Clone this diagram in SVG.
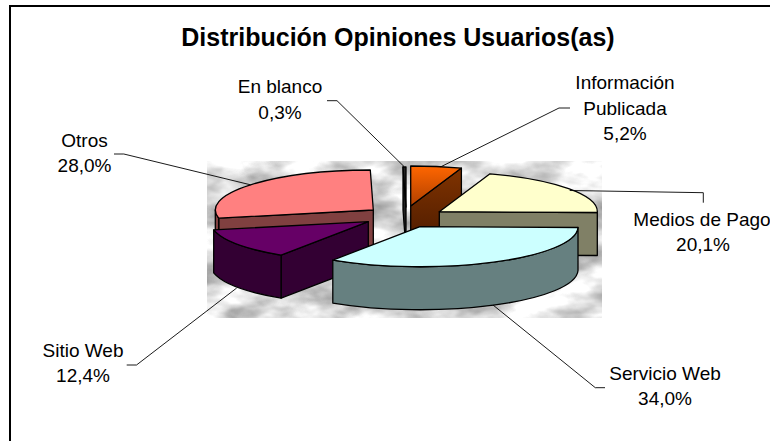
<svg xmlns="http://www.w3.org/2000/svg" width="770" height="441" viewBox="0 0 770 441">
<style>
text{font-family:"Liberation Sans",Arial,sans-serif;fill:#000}
.lbl{font-size:19px;text-anchor:middle}
.title{font-size:25px;font-weight:bold;text-anchor:middle}
.f{stroke:#000;stroke-width:1.3;stroke-linejoin:round}
.lead{fill:none;stroke:#000;stroke-width:0.9}
</style>
<defs>
<filter id="marble" x="0" y="0" width="100%" height="100%" color-interpolation-filters="sRGB">
<feTurbulence type="fractalNoise" baseFrequency="0.018 0.035" numOctaves="4" seed="7" result="n"/>
<feColorMatrix in="n" type="matrix" values="0.9 0 0 0 0.42  0.9 0 0 0 0.42  0.9 0 0 0 0.42  0 0 0 0 1"/>
</filter>
<linearGradient id="orTop" x1="0" y1="0" x2="0" y2="1">
<stop offset="0" stop-color="#FF6600"/><stop offset="1" stop-color="#B04000"/>
</linearGradient>
<linearGradient id="orSide" x1="0" y1="0" x2="0" y2="1">
<stop offset="0" stop-color="#803300"/><stop offset="1" stop-color="#4A1A00"/>
</linearGradient>
</defs>
<rect x="0" y="0" width="770" height="441" fill="#fff"/>
<rect id="frame" x="10" y="6" width="800" height="500" fill="none" stroke="#000" stroke-width="2"/>
<text class="title" x="398" y="46">Distribución Opiniones Usuarios(as)</text>
<rect id="plot-area" x="207" y="161" width="395" height="157" fill="#ddd" filter="url(#marble)"/>

<g id="slice-otros">
<path class="f" fill="#804040" d="M373.3,210 L218.7,218.2 L218.7,261.2 L373.3,253 Z"/>
<path class="f" fill="#804040" d="M218.7,218.2 A158 40 0 0 1 215.3,210 L215.3,253 A158 40 0 0 0 218.7,261.2 Z"/>
<path class="f" fill="#FF8080" d="M373.3,210 L218.7,218.2 A158 40 0 0 1 370.3,170 Z"/>
</g>
<g id="slice-en-blanco">
<path class="f" fill="#222" d="M406,207 L403,167 L403,210 L406,250 Z"/>
<path class="f" fill="#222" d="M406,207 L403,167 A158 40 0 0 1 406,167 Z"/>
</g>
<g id="slice-informacion">
<path class="f" fill="url(#orSide)" d="M410.7,206 L461.4,168.1 L461.4,211.1 L410.7,249 Z"/>
<path class="f" fill="url(#orTop)" d="M410.7,206 L410.7,166 A158 40 0 0 1 461.4,168.1 Z"/>
</g>
<g id="slice-medios">
<path class="f" fill="#808066" d="M439.3,211.7 L597.3,212.5 L597.3,255.5 L439.3,254.7 Z"/>
<path class="f" fill="#FFFFCC" d="M439.3,211.7 L490,173.8 A158 40 0 0 1 597.3,212.5 Z"/>
</g>
<g id="slice-sitio">
<path class="f" fill="#330033" d="M368.3,221.7 L281.1,255.1 L281.1,298.1 L368.3,264.7 Z"/>
<path class="f" fill="#330033" d="M281.1,255.1 A158 40 0 0 1 213.7,229.9 L213.7,272.9 A158 40 0 0 0 281.1,298.1 Z"/>
<path class="f" fill="#660066" d="M368.3,221.7 L281.1,255.1 A158 40 0 0 1 213.7,229.9 Z"/>
</g>
<g id="slice-servicio">
<path class="f" fill="#668080" d="M578,227.5 A158 40 0 0 1 332.8,260.1 L332.8,303.1 A158 40 0 0 0 578,270.5 Z"/>
<path class="f" fill="#CCFFFF" d="M420,226.7 L578,227.5 A158 40 0 0 1 332.8,260.1 Z"/>
</g>

<g id="connectors">
<polyline class="lead" points="327,100.7 337,100.7 404,166.5"/>
<polyline class="lead" points="570,108 559,108 440.6,166.9"/>
<polyline class="lead" points="703.3,202.7 703.3,192.7 569.7,190.5"/>
<polyline class="lead" points="114,154 123.8,154 250.5,184.8"/>
<polyline class="lead" points="126.7,365 136.5,365 236.7,288"/>
<polyline class="lead" points="605,387.7 595.3,387.7 493,305"/>
</g>

<g id="label-en-blanco"><text class="lbl" x="280" y="93">En blanco</text><text class="lbl" x="280" y="119">0,3%</text></g>
<g id="label-informacion"><text class="lbl" x="625" y="88.5">Información</text><text class="lbl" x="625" y="114.5">Publicada</text><text class="lbl" x="625" y="140">5,2%</text></g>
<g id="label-otros"><text class="lbl" x="84.5" y="146.7">Otros</text><text class="lbl" x="84.5" y="172.3">28,0%</text></g>
<g id="label-medios"><text class="lbl" x="702" y="225.7">Medios de Pago</text><text class="lbl" x="703" y="250.7">20,1%</text></g>
<g id="label-sitio"><text class="lbl" x="83" y="357.3">Sitio Web</text><text class="lbl" x="83" y="382.3">12,4%</text></g>
<g id="label-servicio"><text class="lbl" x="665" y="380">Servicio Web</text><text class="lbl" x="665" y="405.3">34,0%</text></g>
</svg>
